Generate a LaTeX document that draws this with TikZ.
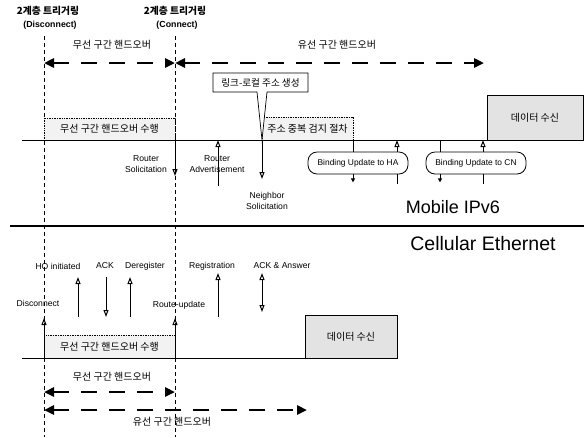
\documentclass[tikz,border=0pt]{standalone}
\usepackage{fontspec}
\setmainfont{Liberation Sans}
\newfontfamily\kr{Noto Sans CJK KR}
\usetikzlibrary{arrows.meta}
\begin{document}
\begin{tikzpicture}[x=1pt,y=-1pt,
  lbl/.style={font=\fontsize{8.6}{10.5}\selectfont, inner sep=0pt, align=center},
  krl/.style={font=\kr\fontsize{10}{12}\selectfont, inner sep=0pt},
  ttl/.style={font=\bfseries\fontsize{8.8}{10}\selectfont, inner sep=0pt},
  big/.style={font=\fontsize{18}{20}\selectfont, inner sep=0pt},
  guide/.style={line width=0.6pt, dash pattern=on 4pt off 3pt},
  span/.style={line width=2.6pt, dash pattern=on 16pt off 12pt,
    {Triangle[length=10pt,width=9pt]}-{Triangle[length=10pt,width=9pt]}},
  base/.style={line width=0.8pt},
  msg/.style={line width=1pt, -{Triangle[open,length=7pt,width=5pt]}},
  msgboth/.style={line width=1pt, {Triangle[open,length=7pt,width=5pt]}-{Triangle[open,length=7pt,width=5pt]}},
  stub/.style={line width=1pt, -{Triangle[length=4pt,width=4pt]}},
  phase/.style={draw, densely dotted, line width=0.7pt, fill=black!5, inner sep=0pt,
    font=\kr\fontsize{10}{12}\selectfont},
  data/.style={draw, line width=0.9pt, fill=black!11, inner sep=0pt,
    font=\kr\fontsize{10}{12}\selectfont},
  bu/.style={draw, line width=0.8pt, rounded corners=9pt, minimum width=100pt,
    minimum height=22pt, inner sep=0pt, fill=white, font=\fontsize{8.4}{10}\selectfont}
]
\useasboundingbox (0,0) rectangle (585,437);

% vertical guides at the two layer-2 triggers
\coordinate (gdis) at (44,36);
\coordinate (gcon) at (175,36);
\draw[guide] (gdis) -- (44,437);
\draw[guide] (gcon) -- (175,437);

% titles
\node[ttl, font=\kr\bfseries\fontsize{9.8}{11}\selectfont] (t1) at (48,11) {2계층 트리거링};
\node[ttl] (t1b) at (50,25) {(Disconnect)};
\node[ttl, font=\kr\bfseries\fontsize{9.8}{11}\selectfont] (t2) at (175,11) {2계층 트리거링};
\node[ttl] (t2b) at (177,25) {(Connect)};

% top spans
\node[krl] (wl1) at (112,45) {무선 구간 핸드오버};
\node[krl] (wd1) at (337,45) {유선 구간 핸드오버};
\coordinate (s1a) at (44,63);
\coordinate (s1b) at (175,63);
\coordinate (s2b) at (484,63);
\draw[span] (s1a) -- (s1b);
\draw[span] (s1b) -- (s2b);

% Mobile IPv6 timeline
\draw[base] (22,140) -- (487,140);
\node[phase, minimum width=131pt, minimum height=22pt] (ph1) at (109.5,129) {무선 구간 핸드오버 수행};
\node[phase, minimum width=91pt, minimum height=23pt] (dad) at (307.5,128.5) {주소 중복 검지 절차};
\node[data, minimum width=96pt, minimum height=45pt] (rx1) at (535,117.5) {데이터 수신};

% link-local callout
\filldraw[fill=white, line width=0.7pt]
  (213,73) -- (308,73) -- (308,92) -- (267,92) -- (262,140) -- (257,92) -- (213,92) -- cycle;
\node[krl, font=\kr\fontsize{9.6}{11}\selectfont] (ll) at (260.5,82.5) {링크-로컬 주소 생성};

% Mobile IPv6 messages
\coordinate (rs0) at (175,140); \coordinate (rs1) at (175,176);
\draw[msg] (rs0) -- (rs1);
\node[lbl] (rsl) at (146,164) {Router\\Solicitation};
\coordinate (ra0) at (218,186); \coordinate (ra1) at (218,140);
\draw[msg] (ra0) -- (ra1);
\node[lbl] (ral) at (217,164) {Router\\Advertisement};
\coordinate (ns0) at (262,140); \coordinate (ns1) at (262,179);
\draw[msg] (ns0) -- (ns1);
\node[lbl] (nsl) at (267,201) {Neighbor\\Solicitation};

\node[bu] (ha) at (358,163) {Binding Update to HA};
\node[bu] (cn) at (476,163) {Binding Update to CN};
\coordinate (ha1) at (353,140); \coordinate (ha2) at (397,140);
\coordinate (cn1) at (440,140); \coordinate (cn2) at (483,140);
\draw[line width=1pt] (ha1) -- (ha.north -| ha1);
\draw[stub] (ha.south -| ha1) -- ++(0,8);
\draw[msg] (ha.north -| ha2) -- (ha2);
\draw[line width=1pt] (ha.south -| ha2) -- ++(0,10);
\draw[line width=1pt] (cn1) -- (cn.north -| cn1);
\draw[stub] (cn.south -| cn1) -- ++(0,8);
\draw[msg] (cn.north -| cn2) -- (cn2);
\draw[line width=1pt] (cn.south -| cn2) -- ++(0,10);

\node[big] (mip) at (453,207) {Mobile IPv6};

% layer separator
\coordinate (sepa) at (10,226); \coordinate (sepb) at (584,226);
\draw[line width=2pt] (sepa) -- (sepb);
\node[big, font=\fontsize{19.5}{22}\selectfont] (ce) at (483,244) {Cellular Ethernet};

% Cellular Ethernet messages
\node[lbl] (hol) at (58,266) {HO initiated};
\node[lbl] (ackl) at (105,266) {ACK};
\node[lbl] (drl) at (145,266) {Deregister};
\node[lbl] (rgl) at (212,266) {Registration};
\node[lbl] (aal) at (282,266) {ACK \& Answer};
\node[lbl] (dcl) at (38,303) {Disconnect};
\node[lbl] (rul) at (179,305) {Route-update};

\draw[msg] (78,317) coordinate (ho0) -- (78,277) coordinate (ho1);
\draw[msg] (106,277) coordinate (ak0) -- (106,317) coordinate (ak1);
\draw[msg] (130,317) coordinate (dr0) -- (130,277) coordinate (dr1);
\draw[msg] (218,317) coordinate (rg0) -- (218,273) coordinate (rg1);
\draw[msgboth] (262,273) coordinate (aa0) -- (262,312) coordinate (aa1);

% Cellular Ethernet timeline
\draw[base] (22,358) -- (305,358);
\node[phase, minimum width=131pt, minimum height=23pt] (ph2) at (109.5,346.5) {무선 구간 핸드오버 수행};
\node[data, minimum width=92pt, minimum height=43pt] (rx2) at (351,336.5) {데이터 수신};
\draw[msg] (44,358) coordinate (dc0) -- (44,318) coordinate (dc1);
\draw[msg] (175,358) coordinate (ru0) -- (175,318) coordinate (ru1);

% bottom spans
\node[krl] (wl2) at (112,377) {무선 구간 핸드오버};
\coordinate (s3a) at (44,392); \coordinate (s3b) at (175,392);
\draw[span] (s3a) -- (s3b);
\coordinate (s4a) at (44,410); \coordinate (s4b) at (307,410);
\draw[span] (s4a) -- (s4b);
\node[krl] (wd2) at (172,422) {유선 구간 핸드오버};
\end{tikzpicture}
\end{document}
